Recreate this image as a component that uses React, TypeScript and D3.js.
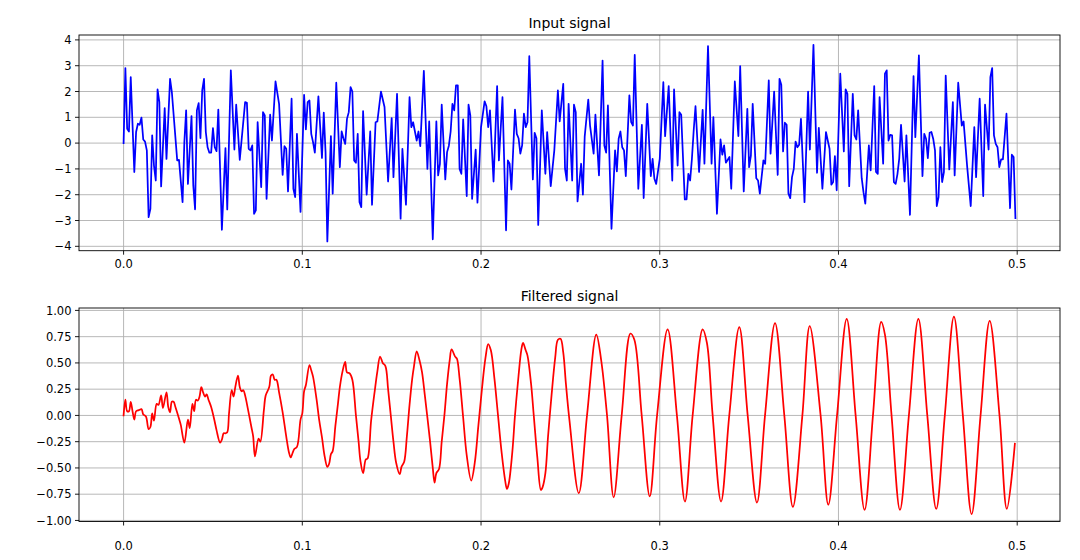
import React from 'react';
import * as d3 from 'd3';

const xTicks = [0, 0.1, 0.2, 0.3, 0.4, 0.5];
const inputYTicks = [-4, -3, -2, -1, 0, 1, 2, 3, 4];
const filteredYTicks = [-1, -0.75, -0.5, -0.25, 0, 0.25, 0.5, 0.75, 1];

// [time (s), value]
const inputSignal: [number, number][] = [
  [0, 0], [0.001, 2.91], [0.002, 0.56], [0.003, 0.45], [0.004, 2.56], [0.006, -1.12], [0.007, 0.43],
  [0.008, 0.75], [0.009, 0.71], [0.01, 0.99], [0.011, 0.14], [0.012, 0.06], [0.013, -0.28], [0.014, -2.87],
  [0.015, -2.55], [0.016, 0.3], [0.017, -0.87], [0.018, -1.45], [0.019, 2.08], [0.02, 1.59], [0.021, -1.68],
  [0.023, 1.36], [0.024, -0.61], [0.026, 2.49], [0.027, 1.98], [0.03, -0.67], [0.031, -0.65], [0.033, -2.29],
  [0.034, 0.04], [0.035, 1.27], [0.036, -1.58], [0.038, 1.05], [0.039, -1.64], [0.04, -2.57], [0.041, 1.27],
  [0.042, 1.55], [0.043, 0.19], [0.044, 2.04], [0.045, 2.49], [0.046, 0.43], [0.047, -0.16], [0.048, -0.37],
  [0.049, -0.37], [0.05, 0.58], [0.051, -0.16], [0.052, -0.31], [0.053, 1.3], [0.055, -3.36], [0.057, -0.19],
  [0.058, -2.57], [0.06, 2.82], [0.062, -0.25], [0.063, 1.49], [0.065, -0.65], [0.068, 1.59], [0.069, 1.56],
  [0.07, -0.22], [0.071, -0.28], [0.072, -0.09], [0.073, -2.74], [0.074, -2.61], [0.075, 0.81], [0.077, -1.71],
  [0.078, 1.2], [0.079, 1.07], [0.08, -2.16], [0.082, 1.1], [0.083, 0.1], [0.085, 2.39], [0.087, 1.52],
  [0.089, -1.23], [0.09, -0.12], [0.091, -0.22], [0.092, -1.87], [0.094, 1.72], [0.095, -1.77], [0.096, -2.09],
  [0.097, 0.36], [0.099, -2.67], [0.101, 1.87], [0.102, 0.53], [0.103, 1.59], [0.104, 1.65], [0.105, 0.36],
  [0.106, 0.04], [0.107, -0.37], [0.109, 1.81], [0.111, -0.58], [0.112, 1.18], [0.113, -0.35], [0.114, -3.81],
  [0.116, 0.27], [0.117, -1.96], [0.119, 2.34], [0.121, -0.93], [0.122, 0.45], [0.123, 0.19], [0.124, -0.03],
  [0.125, 0.94], [0.126, 1.2], [0.127, 2.17], [0.128, 2.0], [0.129, -0.67], [0.13, -0.76], [0.131, 0.36],
  [0.132, -2.29], [0.133, -2.48], [0.134, 1.24], [0.136, -2.0], [0.138, 0.45], [0.139, -2.39], [0.141, 0.81],
  [0.142, 0.84], [0.144, 2.0], [0.146, 1.4], [0.148, -1.49], [0.15, 0.97], [0.151, -1.32], [0.153, 1.91],
  [0.155, -2.93], [0.156, -0.22], [0.158, -2.39], [0.16, 1.78], [0.161, 0.62], [0.162, 0.81], [0.164, 0.1],
  [0.165, 0.45], [0.166, -0.12], [0.168, 2.8], [0.17, -1.0], [0.171, 0.84], [0.173, -3.73], [0.175, 0.84],
  [0.176, -1.25], [0.177, -0.8], [0.178, 1.49], [0.18, -1.41], [0.181, -0.35], [0.182, -0.1], [0.183, 0.45],
  [0.184, 1.52], [0.185, 1.27], [0.186, 2.24], [0.187, 2.24], [0.188, -1.0], [0.189, -1.19], [0.19, 0.92],
  [0.192, -2.05], [0.193, 1.49], [0.194, 1.07], [0.195, -2.16], [0.197, -0.25], [0.198, -2.31], [0.2, 0.62],
  [0.202, 1.62], [0.203, 1.43], [0.204, 0.62], [0.205, 1.27], [0.207, -1.49], [0.209, 2.21], [0.21, -0.67],
  [0.212, 1.78], [0.214, -3.38], [0.215, -0.67], [0.216, -0.8], [0.217, -1.8], [0.219, 1.3], [0.22, 0.36],
  [0.221, 0.19], [0.222, -0.41], [0.223, -0.09], [0.224, 1.14], [0.225, 0.62], [0.226, 0.81], [0.227, 3.37],
  [0.229, -1.41], [0.23, 0.4], [0.231, 0.19], [0.232, -3.17], [0.234, 1.27], [0.236, -1.19], [0.237, 0.43],
  [0.239, -1.67], [0.241, -0.28], [0.243, 2.04], [0.244, 0.84], [0.246, 2.3], [0.247, -1.0], [0.248, -1.45],
  [0.249, 1.52], [0.251, -1.45], [0.252, 1.49], [0.253, 1.2], [0.254, -2.26], [0.256, -0.8], [0.257, -2.0],
  [0.258, 0.25], [0.26, 1.69], [0.261, 0.68], [0.263, -0.41], [0.264, 1.1], [0.266, -1.25], [0.268, 3.2],
  [0.269, -0.09], [0.27, -0.37], [0.271, 1.46], [0.273, -3.32], [0.275, -0.28], [0.276, -1.1], [0.277, 0.17],
  [0.278, 0.45], [0.279, -0.16], [0.28, -0.28], [0.281, -1.28], [0.283, 1.85], [0.284, 0.81], [0.285, 0.68],
  [0.286, 3.42], [0.288, -1.77], [0.29, 0.71], [0.291, -2.13], [0.293, 1.52], [0.295, -1.28], [0.296, -0.61],
  [0.297, -1.38], [0.298, -1.58], [0.3, -0.61], [0.302, 2.36], [0.303, 0.27], [0.305, 2.21], [0.307, -1.45],
  [0.308, 2.08], [0.31, -0.87], [0.311, 1.2], [0.312, 1.1], [0.314, -2.18], [0.315, -2.18], [0.316, -1.19],
  [0.317, -1.45], [0.318, -0.6], [0.319, 0.5], [0.32, 1.43], [0.322, -1.12], [0.324, 1.29], [0.325, -0.8],
  [0.327, 3.76], [0.329, -0.8], [0.33, 1.01], [0.332, -2.74], [0.334, 0.14], [0.335, -0.45], [0.336, -0.09],
  [0.337, -0.76], [0.339, -0.54], [0.34, -1.77], [0.342, 2.39], [0.344, 0.27], [0.345, 2.98], [0.347, -1.87],
  [0.349, 1.33], [0.35, -0.93], [0.351, -0.48], [0.352, 1.52], [0.354, -1.36], [0.355, -1.45], [0.356, -1.96],
  [0.358, -0.67], [0.359, -0.8], [0.361, 2.43], [0.362, -0.41], [0.364, 2.0], [0.366, -1.23], [0.367, 2.49],
  [0.368, 2.26], [0.369, -0.32], [0.37, 0.79], [0.371, 0.71], [0.372, -1.96], [0.373, -2.13], [0.374, -1.32],
  [0.375, -1.0], [0.376, 0.06], [0.377, -0.16], [0.378, -0.06], [0.379, 0.94], [0.381, -2.29], [0.383, 2.0],
  [0.384, -0.25], [0.386, 3.81], [0.388, -1.15], [0.389, 0.59], [0.391, -1.77], [0.393, 0.43], [0.394, 0.1],
  [0.395, -0.22], [0.396, -1.61], [0.397, -1.51], [0.398, -0.5], [0.399, -1.83], [0.401, 2.69], [0.403, -0.32],
  [0.404, 2.08], [0.405, 1.91], [0.406, -1.67], [0.408, 1.91], [0.409, 0.3], [0.41, 0.14], [0.411, 1.27],
  [0.413, -1.36], [0.414, -1.9], [0.415, -2.35], [0.417, -0.09], [0.418, -1.06], [0.42, 2.21], [0.421, -1.12],
  [0.422, -1.19], [0.423, 1.78], [0.425, -0.8], [0.426, 2.69], [0.427, 2.82], [0.428, 0.1], [0.429, 0.32],
  [0.43, 0.3], [0.431, -1.51], [0.432, -1.58], [0.433, -1.2], [0.434, -0.6], [0.435, 0.71], [0.437, -1.49],
  [0.438, 0.3], [0.44, -2.78], [0.442, 2.6], [0.443, 0.23], [0.445, 3.4], [0.447, -1.28], [0.448, 0.36],
  [0.449, 0.17], [0.45, -0.58], [0.451, 0.4], [0.452, 0.43], [0.453, 0.17], [0.454, -0.28], [0.455, -2.44],
  [0.456, -2.09], [0.457, -0.16], [0.458, -1.51], [0.459, -1.12], [0.46, 2.62], [0.462, -1.02], [0.464, 1.59],
  [0.465, -1.25], [0.467, 2.34], [0.469, 0.68], [0.47, 0.84], [0.472, -0.9], [0.474, -2.44], [0.476, 0.62],
  [0.477, -1.32], [0.479, 1.72], [0.481, -2.05], [0.482, 1.49], [0.484, -0.25], [0.485, 2.56], [0.486, 2.91],
  [0.487, 0.3], [0.488, -0.03], [0.489, -0.16], [0.49, -0.93], [0.491, -0.63], [0.492, -0.63], [0.494, 1.14],
  [0.496, -2.52], [0.497, -0.45], [0.498, -0.54], [0.499, -2.91],
];

const filteredSignal: [number, number][] = [
  [0, 0], [0.001, 0.15], [0.002, 0.04], [0.003, 0.04], [0.004, 0.13], [0.005, 0.04], [0.006, -0.04],
  [0.007, 0.04], [0.0085, 0.05], [0.01, 0.06], [0.011, 0.01], [0.0125, -0.01], [0.014, -0.13], [0.015, -0.11],
  [0.016, 0.02], [0.017, -0.05], [0.0185, 0.11], [0.0195, 0.1], [0.021, 0.19], [0.022, 0.07], [0.024, 0.22],
  [0.025, 0.08], [0.026, 0.03], [0.027, 0.13], [0.028, 0.13], [0.029, 0.08], [0.031, -0.03], [0.032, -0.09],
  [0.034, -0.26], [0.036, -0.04], [0.037, -0.12], [0.0385, 0.11], [0.0395, 0.04], [0.0405, 0.15], [0.0415, 0.14],
  [0.0425, 0.18], [0.0435, 0.27], [0.0445, 0.22], [0.0455, 0.18], [0.0465, 0.2], [0.0475, 0.15], [0.049, 0.08],
  [0.051, -0.06], [0.052, -0.14], [0.054, -0.26], [0.055, -0.23], [0.056, -0.17], [0.057, -0.17], [0.058, -0.16],
  [0.059, 0.02], [0.0605, 0.24], [0.0615, 0.18], [0.0625, 0.27], [0.064, 0.38], [0.065, 0.27], [0.066, 0.23],
  [0.067, 0.24], [0.068, 0.19], [0.069, 0.11], [0.0715, -0.11], [0.0725, -0.2], [0.0735, -0.39], [0.0755, -0.22],
  [0.0765, -0.25], [0.0785, 0.05], [0.0795, 0.19], [0.0815, 0.27], [0.0825, 0.38], [0.0835, 0.39], [0.0845, 0.34],
  [0.0855, 0.34], [0.087, 0.22], [0.089, 0.03], [0.091, -0.2], [0.0925, -0.35], [0.0935, -0.4], [0.0945, -0.36],
  [0.0955, -0.32], [0.097, -0.3], [0.099, -0.04], [0.1, 0.02], [0.101, 0.23], [0.102, 0.29], [0.104, 0.48],
  [0.105, 0.43], [0.106, 0.37], [0.108, 0.15], [0.1095, -0.05], [0.111, -0.21], [0.1125, -0.39], [0.114, -0.49],
  [0.115, -0.46], [0.116, -0.37], [0.117, -0.34], [0.1185, -0.1], [0.12, 0.12], [0.121, 0.27], [0.1225, 0.42],
  [0.124, 0.51], [0.125, 0.41], [0.1265, 0.4], [0.128, 0.34], [0.13, 0.0], [0.1315, -0.25], [0.1325, -0.43],
  [0.134, -0.55], [0.1355, -0.42], [0.1365, -0.41], [0.1385, -0.05], [0.1405, 0.23], [0.142, 0.42], [0.1435, 0.56],
  [0.145, 0.5], [0.1465, 0.47], [0.148, 0.25], [0.1495, 0.0], [0.151, -0.25], [0.1525, -0.45], [0.1545, -0.56],
  [0.1555, -0.49], [0.157, -0.44], [0.1585, -0.2], [0.16, 0.1], [0.1615, 0.35], [0.1625, 0.47], [0.164, 0.61],
  [0.1655, 0.53], [0.167, 0.41], [0.1685, 0.2], [0.17, -0.02], [0.1715, -0.25], [0.173, -0.5], [0.174, -0.64],
  [0.175, -0.55], [0.1765, -0.51], [0.178, -0.25], [0.1795, 0.0], [0.181, 0.3], [0.1825, 0.53], [0.1835, 0.63],
  [0.1855, 0.56], [0.1865, 0.54], [0.188, 0.35], [0.19, -0.02], [0.192, -0.38], [0.1945, -0.62], [0.1965, -0.45],
  [0.1985, -0.1], [0.2005, 0.25], [0.2025, 0.55], [0.204, 0.68], [0.2055, 0.62], [0.2075, 0.35], [0.2095, 0.0],
  [0.2115, -0.35], [0.2135, -0.62], [0.2145, -0.7], [0.2155, -0.65], [0.2175, -0.35], [0.219, 0.0], [0.221, 0.38],
  [0.2225, 0.62], [0.2235, 0.69], [0.225, 0.62], [0.226, 0.57], [0.228, 0.3], [0.2295, 0.0], [0.2315, -0.4],
  [0.2335, -0.71], [0.2345, -0.68], [0.236, -0.55], [0.2375, -0.2], [0.2395, 0.2], [0.2415, 0.55], [0.243, 0.72],
  [0.2445, 0.73], [0.246, 0.6], [0.2475, 0.3], [0.2495, -0.05], [0.2547, -0.74], [0.2593, 0.0], [0.2645, 0.77],
  [0.2672, 0.53], [0.2705, 0.0], [0.2742, -0.78], [0.2787, 0.0], [0.2836, 0.78], [0.2858, 0.72], [0.2899, 0.0],
  [0.2944, -0.77], [0.2985, 0.0], [0.3044, 0.82], [0.3096, 0.0], [0.3141, -0.82], [0.3184, 0.0], [0.324, 0.82],
  [0.3264, 0.69], [0.3296, 0.0], [0.3343, -0.82], [0.3389, 0.0], [0.3445, 0.84], [0.3492, 0.0], [0.3544, -0.83],
  [0.3589, 0.0], [0.3645, 0.88], [0.3697, 0.0], [0.3745, -0.87], [0.3798, 0.0], [0.3839, 0.85], [0.39, 0.0],
  [0.3943, -0.85], [0.3992, 0.0], [0.4046, 0.92], [0.4096, 0.0], [0.4146, -0.9], [0.4193, 0.0], [0.4239, 0.89],
  [0.426, 0.77], [0.4297, 0.0], [0.4344, -0.9], [0.4394, 0.0], [0.4447, 0.92], [0.4497, 0.0], [0.4547, -0.89],
  [0.4595, 0.0], [0.4646, 0.94], [0.4696, 0.0], [0.4745, -0.94], [0.4795, 0.0], [0.4846, 0.9], [0.4901, 0.0],
  [0.4942, -0.89], [0.4987, -0.27],
];

const W = 1080;
const H = 560;
const LEFT = 79;
const RIGHT = 1060;
const FONT = "'DejaVu Sans', sans-serif";

const minus = (s: string) => s.replace('-', '\u2212');

type Panel = {
  key: string;
  title: string;
  data: [number, number][];
  color: string;
  top: number;
  bottom: number;
  yDomain: [number, number];
  yTicks: number[];
  fmt: (v: number) => string;
  curve: d3.CurveFactory;
  titleY: number;
  xLabelY: number;
};

const panels: Panel[] = [
  {
    key: 'in', title: 'Input signal', data: inputSignal, color: '#0000ff', top: 35, bottom: 250.7,
    yDomain: [-4.17, 4.19], yTicks: inputYTicks, fmt: (v) => minus(String(v)), curve: d3.curveLinear,
    titleY: 28, xLabelY: 268,
  },
  {
    key: 'out', title: 'Filtered signal', data: filteredSignal, color: '#ff0000', top: 308, bottom: 521.5,
    yDomain: [-1.01, 1.023], yTicks: filteredYTicks, fmt: (v) => minus(v.toFixed(2)),
    curve: d3.curveCatmullRom.alpha(0.5), titleY: 301, xLabelY: 550,
  },
];

const x = d3.scaleLinear().domain([-0.02495, 0.52395]).range([LEFT, RIGHT]);

function PanelView({ p }: { p: Panel }) {
  const y = d3.scaleLinear().domain(p.yDomain).range([p.bottom, p.top]);
  const line = d3.line<[number, number]>().x((d) => x(d[0])).y((d) => y(d[1])).curve(p.curve);
  const clipId = 'clip-' + p.key;
  return (
    <g>
      <defs>
        <clipPath id={clipId}>
          <rect x={LEFT} y={p.top} width={RIGHT - LEFT} height={p.bottom - p.top} />
        </clipPath>
      </defs>
      {xTicks.map((t) => (
        <line key={'gx' + t} x1={x(t)} x2={x(t)} y1={p.top} y2={p.bottom} stroke="#b0b0b0" strokeWidth={0.9} />
      ))}
      {p.yTicks.map((v) => (
        <line key={'gy' + v} x1={LEFT} x2={RIGHT} y1={y(v)} y2={y(v)} stroke="#b0b0b0" strokeWidth={0.9} />
      ))}
      <path d={line(p.data) || ''} fill="none" stroke={p.color} strokeWidth={1.75}
        strokeLinejoin="round" strokeLinecap="square" clipPath={`url(#${clipId})`} />
      <rect x={LEFT} y={p.top} width={RIGHT - LEFT} height={p.bottom - p.top} fill="none" stroke="#000" strokeWidth={0.9} />
      {xTicks.map((t) => (
        <g key={'tx' + t}>
          <line x1={x(t)} x2={x(t)} y1={p.bottom} y2={p.bottom + 4} stroke="#000" strokeWidth={0.9} />
          <text x={x(t)} y={p.xLabelY} textAnchor="middle" fontFamily={FONT} fontSize={11.5} fill="#000">
            {t.toFixed(1)}
          </text>
        </g>
      ))}
      {p.yTicks.map((v) => (
        <g key={'ty' + v}>
          <line x1={LEFT - 4} x2={LEFT} y1={y(v)} y2={y(v)} stroke="#000" strokeWidth={0.9} />
          <text x={LEFT - 7.5} y={y(v)} dy="0.36em" textAnchor="end" fontFamily={FONT} fontSize={11.5} fill="#000">
            {p.fmt(v)}
          </text>
        </g>
      ))}
      <text x={(LEFT + RIGHT) / 2} y={p.titleY} textAnchor="middle" fontFamily={FONT} fontSize={14} fill="#000">
        {p.title}
      </text>
    </g>
  );
}

export default function App() {
  return (
    <svg width={W} height={H} viewBox={`0 0 ${W} ${H}`}
      style={{ position: 'absolute', left: 0, top: 0, display: 'block', background: '#fff' }}>
      <rect x={0} y={0} width={W} height={H} fill="#fff" />
      {panels.map((p) => (
        <PanelView key={p.key} p={p} />
      ))}
    </svg>
  );
}
